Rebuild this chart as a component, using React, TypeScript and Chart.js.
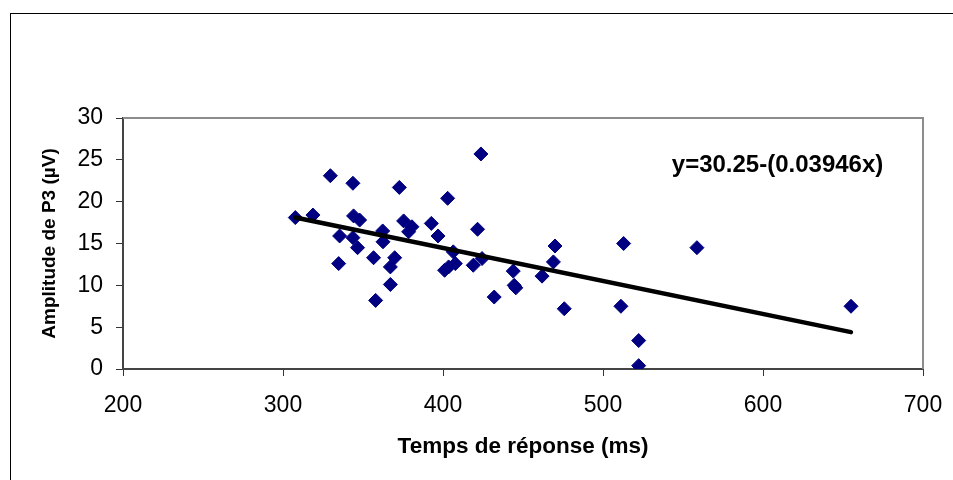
import React, { useEffect, useRef } from "react";
import { Chart, registerables } from "chart.js";

Chart.register(...registerables);

// Response time (ms)
const responseTimes: number[] = [
  307.7, 318.7, 329.6, 343.7, 372.7, 402.9, 423.7, 344.1, 347.9, 335.4,
  343.7, 346.6, 362.3, 362.5, 375.4, 380.6, 378.5, 392.7, 396.9, 334.8,
  356.6, 369.8, 367.1, 367.1, 357.9, 406.4, 401.0, 403.5, 407.7, 418.9,
  421.6, 424.4, 443.9, 444.5, 445.5, 432.0, 461.9, 469.0, 470.0, 475.8,
  512.9, 511.2, 522.3, 522.3, 558.7, 655.0,
];
// P3 amplitude (µV)
const amplitudes: number[] = [
  18.1, 18.4, 23.1, 22.2, 21.7, 20.4, 25.7, 18.3, 17.8, 15.9,
  15.7, 14.5, 16.5, 15.2, 17.7, 17.0, 16.4, 17.4, 15.9, 12.6,
  13.3, 13.3, 12.2, 10.1, 8.2, 14.0, 11.8, 12.2, 12.6, 12.4,
  16.7, 13.2, 11.7, 10.0, 9.7, 8.6, 11.1, 12.8, 14.7, 7.2,
  15.0, 7.5, 3.4, 0.4, 14.5, 7.5,
];
// Regression y = 30.25 - 0.03946x
const interceptValue = 30.25;
const slopeValue = 0.03946;
const trendRange: number[] = [307.7, 655.0];
const equationLabel = "y=30.25-(0.03946x)";
const equationAt = { x: 543, y: 24.3 };

const xTitle = "Temps de réponse (ms)";
const yTitle = "Amplitude de P3 (µV)";

const FONT = "Arial, 'Liberation Sans', Helvetica, sans-serif";

export default function App() {
  const ref = useRef<HTMLCanvasElement | null>(null);

  useEffect(() => {
    if (!ref.current) return;
    const points = responseTimes.map((x, i) => ({ x, y: amplitudes[i] }));
    const trend = trendRange.map((x) => ({ x, y: interceptValue - slopeValue * x }));

    const framePlugin = {
      id: "frame",
      beforeDraw(chart: any) {
        const ctx = chart.ctx;
        ctx.save();
        ctx.fillStyle = "#ffffff";
        ctx.fillRect(0, 0, chart.width, chart.height);
        ctx.strokeStyle = "#000000";
        ctx.lineWidth = 1;
        ctx.strokeRect(10.5, 13.5, 2000, 2000);
        ctx.restore();
      },
      afterDatasetsDraw(chart: any) {
        const ctx = chart.ctx;
        const a = chart.chartArea;
        ctx.save();
        ctx.strokeStyle = "#8c8c8c";
        ctx.lineWidth = 2;
        ctx.beginPath();
        ctx.moveTo(a.left, a.top);
        ctx.lineTo(a.right, a.top);
        ctx.lineTo(a.right, a.bottom);
        ctx.stroke();
        const xs = chart.scales.x;
        const ys = chart.scales.y;
        ctx.fillStyle = "#000000";
        ctx.font = `bold 24px ${FONT}`;
        ctx.textAlign = "left";
        ctx.textBaseline = "middle";
        ctx.fillText(equationLabel, xs.getPixelForValue(equationAt.x), ys.getPixelForValue(equationAt.y));
        ctx.restore();
      },
    };

    const chart = new Chart(ref.current, {
      type: "scatter",
      data: {
        datasets: [
          {
            type: "line",
            data: trend,
            borderColor: "#000000",
            borderWidth: 4.5,
            borderCapStyle: "round",
            pointRadius: 0,
            showLine: true,
            fill: false,
          } as any,
          {
            data: points,
            pointStyle: "rectRot",
            pointRadius: 7,
            pointHoverRadius: 7,
            backgroundColor: "#000080",
            borderColor: "#000080",
            borderWidth: 1,
          },
        ],
      },
      options: {
        animation: false,
        responsive: false,
        events: [],
        layout: { padding: { top: 118, right: 30, left: 0, bottom: 0 } },
        plugins: { legend: { display: false }, tooltip: { enabled: false } },
        scales: {
          x: {
            type: "linear",
            min: 200,
            max: 700,
            afterFit: (s: any) => { s.height = 111; s.paddingLeft = 0; s.paddingRight = 0; },
            ticks: { stepSize: 100, color: "#000", font: { family: FONT, size: 23 }, padding: 16, maxRotation: 0 },
            grid: { drawOnChartArea: false, drawTicks: true, tickLength: 7, color: "#333", lineWidth: 1 },
            border: { display: true, color: "#444", width: 2 },
            title: { display: true, text: xTitle, color: "#000", font: { family: FONT, size: 22.5, weight: "bold" }, padding: { top: 0, bottom: 20 } },
          },
          y: {
            type: "linear",
            min: 0,
            max: 30,
            afterFit: (s: any) => { s.width = 123; s.paddingTop = 0; s.paddingBottom = 0; },
            ticks: { stepSize: 5, color: "#000", font: { family: FONT, size: 23 }, padding: 13 },
            grid: { drawOnChartArea: false, drawTicks: true, tickLength: 7, color: "#333", lineWidth: 1 },
            border: { display: true, color: "#444", width: 2 },
            title: { display: true, text: yTitle, color: "#000", font: { family: FONT, size: 19, weight: "bold" }, padding: { top: 38, bottom: 0 } },
          },
        },
      },
      plugins: [framePlugin],
    });
    return () => chart.destroy();
  }, []);

  return (
    <div style={{ position: "absolute", left: 0, top: 0, width: 953, height: 480, background: "#fff" }}>
      <canvas ref={ref} width={953} height={480} style={{ display: "block" }} />
    </div>
  );
}
